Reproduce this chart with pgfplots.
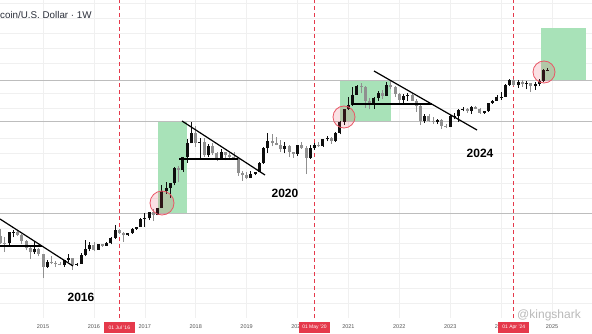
\documentclass[border=0pt]{standalone}
\usepackage{pgfplots}
\pgfplotsset{compat=1.18}
\usepackage{pgfplotstable}
\usepackage{fontspec}
\setmainfont{Liberation Sans}
\definecolor{upc}{HTML}{0E0E0E}
\definecolor{dnc}{HTML}{909090}
\definecolor{boxg}{RGB}{168,226,184}
\definecolor{tvred}{HTML}{E5394B}
\definecolor{lvl}{HTML}{BDBDBD}
\definecolor{gridc}{HTML}{F0F0F0}
\definecolor{tickc}{HTML}{555555}
\definecolor{titlec}{HTML}{2A2E39}

\pgfplotstableread{
x o h l c
2014.167 570 710 440 458
2014.250 458 540 340 447
2014.333 447 630 425 628
2014.417 628 680 540 640
2014.500 640 650 565 585
2014.583 585 600 440 480
2014.667 480 500 360 387
2014.750 387 415 275 338
2014.833 338 460 320 378
2014.917 378 385 300 320
2015.000 320 320 152 217
2015.083 217 270 210 254
2015.167 254 300 235 244
2015.250 244 260 214 236
2015.333 236 248 226 230
2015.417 230 268 218 263
2015.500 263 318 254 284
2015.583 284 285 197 230
2015.667 230 245 225 236
2015.750 236 335 236 314
2015.833 314 500 300 377
2015.917 377 470 350 430
2016.000 430 460 350 368
2016.083 368 445 365 437
2016.167 437 440 405 416
2016.250 416 470 412 448
2016.333 448 550 435 531
2016.417 531 780 520 673
2016.500 673 700 605 624
2016.583 624 630 470 573
2016.667 573 620 570 609
2016.750 609 720 604 700
2016.833 700 755 680 742
2016.917 742 980 740 966
2017.000 966 1150 750 970
2017.083 970 1200 920 1190
2017.167 1190 1300 890 1080
2017.250 1080 1350 1070 1348
2017.333 1348 2780 1340 2300
2017.417 2300 3000 2100 2480
2017.500 2480 2930 1830 2875
2017.583 2875 4750 2700 4700
2017.667 4700 5000 2980 4340
2017.750 4340 6470 4100 6450
2017.833 6450 11500 5500 10000
2017.917 10000 19700 10000 13800
2018.000 13800 17200 9000 10200
2018.083 10200 11800 6000 10300
2018.167 10300 11700 6600 6900
2018.250 6900 9750 6500 9250
2018.333 9250 9990 7000 7500
2018.417 7500 7750 5750 6400
2018.500 6400 8500 6000 7730
2018.583 7730 7750 5880 7000
2018.667 7000 7400 6100 6620
2018.750 6620 7680 6200 6310
2018.833 6310 6580 3650 4000
2018.917 4000 4250 3150 3740
2019.000 3740 4100 3350 3460
2019.083 3460 4200 3400 3850
2019.167 3850 4150 3700 4100
2019.250 4100 5600 4050 5350
2019.333 5350 9000 5320 8550
2019.417 8550 13900 7500 10800
2019.500 10800 13200 9100 10100
2019.583 10100 12300 9400 9600
2019.667 9600 10950 7700 8300
2019.750 8300 10500 7300 9150
2019.833 9150 9500 6500 7550
2019.917 7550 7750 6430 7200
2020.000 7200 9600 6850 9350
2020.083 9350 10500 8450 8550
2020.167 8550 9200 3850 6420
2020.250 6420 9450 6150 8630
2020.333 8630 10080 8100 9450
2020.417 9450 10400 8900 9140
2020.500 9140 11450 8950 11350
2020.583 11350 12480 10600 11650
2020.667 11650 12100 9850 10780
2020.750 10780 14100 10400 13800
2020.833 13800 19850 13200 19700
2020.917 19700 29300 17600 28900
2021.000 28900 41900 28100 33100
2021.083 33100 58300 32300 45100
2021.167 45100 61800 45000 58800
2021.250 58800 64900 47000 57700
2021.333 57700 59500 30000 37300
2021.417 37300 41300 28800 35000
2021.500 35000 42300 29300 41500
2021.583 41500 50500 37300 47100
2021.667 47100 52900 39600 43800
2021.750 43800 67000 43300 61300
2021.833 61300 69000 53300 57000
2021.917 57000 59000 42000 46300
2022.000 46300 48000 32900 38500
2022.083 38500 45800 34300 43200
2022.167 43200 48200 37200 45500
2022.250 45500 47400 37600 37700
2022.333 37700 40000 26700 31800
2022.417 31800 32400 17600 19900
2022.500 19900 24700 18800 23300
2022.583 23300 25200 19600 20000
2022.667 20000 22800 18200 19400
2022.750 19400 21100 18200 20500
2022.833 20500 21500 15500 17200
2022.917 17200 18400 16300 16500
2023.000 16500 23900 16500 23100
2023.083 23100 25300 21400 23150
2023.167 23150 29200 19600 28500
2023.250 28500 31000 26900 29200
2023.333 29200 29900 25800 27200
2023.417 27200 31400 24800 30500
2023.500 30500 31800 28900 29200
2023.583 29200 30200 25200 26000
2023.667 26000 27500 24900 27000
2023.750 27000 35000 26600 34600
2023.833 34600 38500 34100 37700
2023.917 37700 44700 37600 42300
2024.000 42300 48900 38500 42600
2024.083 42600 64000 41900 61200
2024.167 61200 73800 59300 71300
2024.250 71300 72700 59600 60600
2024.333 60600 71900 56500 67500
2024.417 67500 72000 58400 62700
2024.500 62700 70000 53500 64600
2024.583 64600 65600 49000 58900
2024.667 58900 66500 52500 63300
2024.750 63300 73600 58900 70200
2024.833 70200 99600 66800 96400
2024.917 96400 104000 94000 99000
}\btc

\begin{document}
\begin{tikzpicture}
\begin{axis}[
  at={(0,0)}, anchor=south west,
  scale only axis, width=592pt, height=318pt,
  xmin=2014.1552, xmax=2025.7859,
  ymode=log, ymin=44.09, ymax=857120,
  xtick={2015,2016,2017,2018,2019,2020,2021,2022,2023,2024,2025},
  xticklabels={2015,2016,2017,2018,2019,2020,2021,2022,2023,2024,2025},
  ytick={70,112,178,284,452,721,1829,2914,4642,7395,11780,29894,47621,120845,192506,306662,488513,778201},
  yticklabels={},
  grid=major, major grid style={gridc, line width=0.5pt},
  axis line style={draw=none}, major tick length=0pt,
  xticklabel style={anchor=center, yshift=-9pt, font=\fontsize{5.5}{6}\selectfont, text=tickc},
  clip=true,
]
% target boxes
\fill[boxg] (axis cs:2017.25,1148) rectangle (axis cs:2017.82,20000);
\fill[boxg] (axis cs:2020.84,20000) rectangle (axis cs:2021.83,71400);
\fill[boxg] (axis cs:2024.78,71400) rectangle (axis cs:2025.67,362000);
% key levels
\draw[lvl, line width=0.8pt] (axis cs:2014.1552,71400) -- (axis cs:2025.7859,71400);
\draw[lvl, line width=0.8pt] (axis cs:2014.1552,20000) -- (axis cs:2025.7859,20000);
\draw[lvl, line width=0.8pt] (axis cs:2014.1552,1148) -- (axis cs:2025.7859,1148);
% halving lines
\draw[tvred, dash pattern=on 4pt off 3pt, line width=0.7pt] (axis cs:2016.5,44.09) -- (axis cs:2016.5,857120);
\draw[tvred, dash pattern=on 4pt off 3pt, line width=0.7pt] (axis cs:2020.333,44.09) -- (axis cs:2020.333,857120);
\draw[tvred, dash pattern=on 4pt off 3pt, line width=0.7pt] (axis cs:2024.25,44.09) -- (axis cs:2024.25,857120);
% wicks
\addplot[draw=none, mark=none, forget plot,
  restrict expr to domain={\thisrow{c}-\thisrow{o}}{0:1000000},
  error bars/.cd, y dir=plus, y explicit, error mark=none,
  error bar style={draw=upc, line width=0.7pt}]
  table[x=x, y=l, y error expr={\thisrow{h}-\thisrow{l}}] {\btc};
\addplot[draw=none, mark=none, forget plot,
  restrict expr to domain={\thisrow{c}-\thisrow{o}}{-1000000:-0.001},
  error bars/.cd, y dir=plus, y explicit, error mark=none,
  error bar style={draw=dnc, line width=0.7pt}]
  table[x=x, y=l, y error expr={\thisrow{h}-\thisrow{l}}] {\btc};
% bodies
\addplot[draw=none, mark=none, forget plot,
  restrict expr to domain={\thisrow{c}-\thisrow{o}}{0:1000000},
  error bars/.cd, y dir=plus, y explicit, error mark=none,
  error bar style={draw=upc, line width=3pt}]
  table[x=x, y expr={min(\thisrow{o},\thisrow{c})}, y error expr={abs(\thisrow{c}-\thisrow{o})}] {\btc};
\addplot[draw=none, mark=none, forget plot,
  restrict expr to domain={\thisrow{c}-\thisrow{o}}{-1000000:-0.001},
  error bars/.cd, y dir=plus, y explicit, error mark=none,
  error bar style={draw=dnc, line width=3pt}]
  table[x=x, y expr={min(\thisrow{o},\thisrow{c})}, y error expr={abs(\thisrow{c}-\thisrow{o})}] {\btc};
\end{axis}
\begin{scope}[x=1pt,y=1pt]
% trend lines
\draw[black, line width=1.2pt] (0,99) -- (73,52);
\draw[black, line width=1.2pt] (0,72) -- (42,72);
\draw[black, line width=1.2pt] (182,197) -- (265,143);
\draw[black, line width=1.2pt] (179,159) -- (238,159);
\draw[black, line width=1.2pt] (374,247) -- (477,188);
\draw[black, line width=1.2pt] (352,214) -- (432,214);
% circles
\draw[tvred!85, line width=0.8pt, fill=tvred, fill opacity=0.15] (162,115) circle[radius=12pt];
\draw[tvred!85, line width=0.8pt, fill=tvred, fill opacity=0.15] (344,201) circle[radius=11pt];
\draw[tvred!85, line width=0.8pt, fill=tvred, fill opacity=0.15] (544,246) circle[radius=11pt];
% texts
\node[anchor=west, inner sep=0, font=\fontsize{9.8}{11}\selectfont, text=titlec] at (0,303) {coin/U.S. Dollar · 1W};
\node[font=\bfseries\fontsize{12}{14}\selectfont] at (81,21) {2016};
\node[font=\bfseries\fontsize{12}{14}\selectfont] at (285,125) {2020};
\node[font=\bfseries\fontsize{12}{14}\selectfont] at (480,165) {2024};
\node[text=gray!55, font=\fontsize{12}{13}\selectfont] at (549,3) {@kingshark};
% halving labels
\node[fill=tvred, text=white, font=\fontsize{5}{6}\selectfont, minimum width=31pt, minimum height=11pt, inner sep=0] at (119.35,-9.5) {01 Jul '16};
\node[fill=tvred, text=white, font=\fontsize{5}{6}\selectfont, minimum width=31pt, minimum height=11pt, inner sep=0] at (314.5,-9.5) {01 May '20};
\node[fill=tvred, text=white, font=\fontsize{5}{6}\selectfont, minimum width=31pt, minimum height=11pt, inner sep=0] at (513.8,-9.5) {01 Apr '24};
\pgfresetboundingbox
\useasboundingbox (0,-15) rectangle (592,318);
\end{scope}
\end{tikzpicture}
\end{document}
